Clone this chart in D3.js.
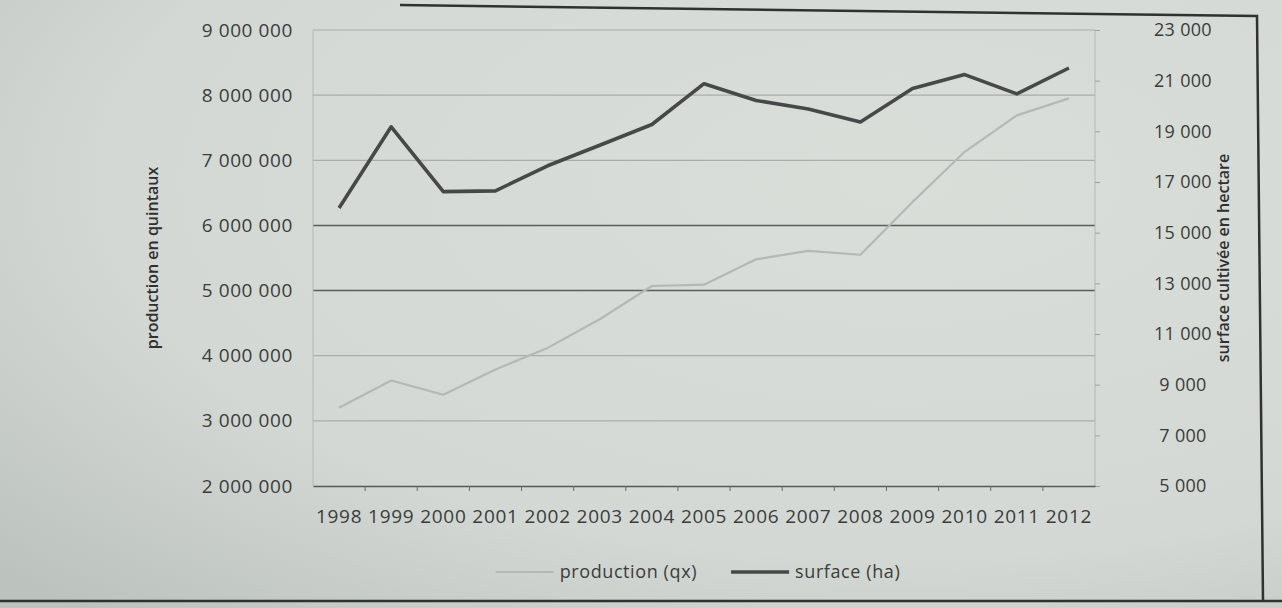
<!DOCTYPE html>
<html><head><meta charset="utf-8">
<script src="https://cdn.jsdelivr.net/npm/d3@7"></script>
<style>
body{margin:0;background:#d4d9d5;}
svg{display:block;font-family:'Open Sans',sans-serif;}
</style>
</head><body>
<svg id="c" width="1282" height="608"></svg>
<script>
// ---- data ----
const years = ["1998","1999","2000","2001","2002","2003","2004","2005","2006","2007","2008","2009","2010","2011","2012"];
const production = [3200000,3620000,3400000,3790000,4120000,4560000,5070000,5090000,5480000,5610000,5550000,6360000,7130000,7690000,7950000];
const surface = [15970,19180,16620,16650,17640,18450,19270,20880,20220,19880,19370,20690,21240,20480,21500];
const leftTicks = [2000000,3000000,4000000,5000000,6000000,7000000,8000000,9000000];
const rightTicks = [5000,7000,9000,11000,13000,15000,17000,19000,21000,23000];
const seriesNames = ["production (qx)","surface (ha)"];
const axisTitles = ["production en quintaux","surface cultivée en hectare"];

// ---- layout ----
const W = 1282, H = 608;
const plot = {left:313, right:1095, top:30, bottom:486};
const textCol = "#3b3d3c";
const fr = d3.formatLocale({decimal:",", thousands:" ", grouping:[3], currency:["","€"]}).format(",d");

const svg = d3.select("#c");

// background with soft shadow at the lower left
const defs = svg.append("defs");
const rg = defs.append("radialGradient").attr("id","bg").attr("cx","0.7").attr("cy","0.3").attr("r","0.95");
rg.append("stop").attr("offset","0").attr("stop-color","#d9ded9");
rg.append("stop").attr("offset","0.65").attr("stop-color","#d3d8d4");
rg.append("stop").attr("offset","1").attr("stop-color","#bcc2be");
svg.append("rect").attr("width",W).attr("height",H).attr("fill","url(#bg)");

const x = d3.scaleBand().domain(years).range([plot.left, plot.right]);
const cx = d => x(d) + x.bandwidth()/2;
const yL = d3.scaleLinear().domain([2000000,9000000]).range([plot.bottom, plot.top]);
const yR = d3.scaleLinear().domain([5000,23000]).range([plot.bottom, plot.top]);

// gridlines
svg.append("g").selectAll("line").data(leftTicks.slice(1)).join("line")
  .attr("x1",plot.left).attr("x2",plot.right)
  .attr("y1",d=>yL(d)).attr("y2",d=>yL(d))
  .attr("stroke",d=> (d===5000000||d===6000000) ? "#5a5d5b" : "#a9aeaa")
  .attr("stroke-width",d=> (d===5000000||d===6000000) ? 1.6 : 1.2);

// left & right faint axis lines
svg.append("line").attr("x1",plot.left).attr("x2",plot.left).attr("y1",plot.top).attr("y2",plot.bottom)
  .attr("stroke","#b3b8b4").attr("stroke-width",1);
svg.append("line").attr("x1",plot.right).attr("x2",plot.right).attr("y1",plot.top).attr("y2",plot.bottom)
  .attr("stroke","#b3b8b4").attr("stroke-width",1);

// left axis labels
const gL = svg.append("g").attr("transform",`translate(${plot.left},0)`)
  .call(d3.axisLeft(yL).tickValues(leftTicks).tickFormat(fr).tickSize(0).tickPadding(20));
gL.select(".domain").remove();
gL.selectAll("text").attr("font-size",19).attr("fill",textCol).attr("font-family","'Open Sans',sans-serif").attr("letter-spacing",0.6);

// right axis
const gR = svg.append("g").attr("transform",`translate(${plot.right},0)`)
  .call(d3.axisRight(yR).tickValues(rightTicks).tickFormat(fr).tickSize(5));
gR.select(".domain").remove();
gR.selectAll("line").attr("stroke","#9ea39f");
gR.selectAll("text").attr("font-size",18).attr("fill",textCol).attr("font-family","'Open Sans',sans-serif")
  .attr("text-anchor","middle").attr("x",88).attr("letter-spacing",0.3);

// x axis
const gX = svg.append("g").attr("transform",`translate(0,${plot.bottom})`)
  .call(d3.axisBottom(x).tickSize(0).tickPadding(24));
gX.select(".domain").attr("stroke","#555957").attr("stroke-width",1.6);
gX.selectAll("text").attr("font-size",19).attr("fill",textCol).attr("font-family","'Open Sans',sans-serif").attr("letter-spacing",0.7);
// boundary ticks
svg.append("g").selectAll("line").data(years.slice(1)).join("line")
  .attr("x1",d=>x(d)).attr("x2",d=>x(d)).attr("y1",plot.bottom).attr("y2",plot.bottom+5)
  .attr("stroke","#6a6d6b").attr("stroke-width",1);

// lines
const lineP = d3.line().x((d,i)=>cx(years[i])).y(d=>yL(d));
const lineS = d3.line().x((d,i)=>cx(years[i])).y(d=>yR(d));
svg.append("path").datum(production).attr("d",lineP).attr("fill","none")
  .attr("stroke","#b4b9b5").attr("stroke-width",2.2).attr("stroke-linejoin","round");
svg.append("path").datum(surface).attr("d",lineS).attr("fill","none")
  .attr("stroke","#464948").attr("stroke-width",3.6).attr("stroke-linejoin","round");

// axis titles
svg.append("text").attr("transform",`translate(158,${(plot.top+plot.bottom)/2}) rotate(-90)`)
  .attr("text-anchor","middle").attr("font-size",16).attr("font-weight",600).attr("fill","#2f3130")
  .text(axisTitles[0]);
svg.append("text").attr("transform",`translate(1229,${(plot.top+plot.bottom)/2}) rotate(-90)`)
  .attr("text-anchor","middle").attr("font-size",16).attr("font-weight",600).attr("fill","#2f3130")
  .text(axisTitles[1]);

// legend
const legY = 572;
const legendColors = ["#b4b9b5","#464948"];
const legendWidths = [2.2,3.4];
const leg = svg.append("g");
let lx = 0;
seriesNames.forEach((n,i)=>{
  const g = leg.append("g").attr("transform",`translate(${lx},0)`);
  g.append("line").attr("x1",0).attr("x2",58).attr("y1",legY).attr("y2",legY)
    .attr("stroke",legendColors[i]).attr("stroke-width",legendWidths[i]);
  const t = g.append("text").attr("x",64).attr("y",legY+6).attr("font-size",18).attr("fill",textCol)
    .attr("letter-spacing",0.6).text(n);
  lx += 64 + t.node().getComputedTextLength() + 34;
});
const legW = lx - 34;
leg.attr("transform",`translate(${(plot.left+plot.right)/2 - legW/2 - 6},0)`);

// frame of the printed chart
svg.append("path").attr("d",`M400,5 L1257,16 L1263,600`).attr("fill","none")
  .attr("stroke","#2f3231").attr("stroke-width",2.5);
svg.append("line").attr("x1",0).attr("x2",W).attr("y1",601).attr("y2",601)
  .attr("stroke","#2f3231").attr("stroke-width",2.5);
</script>
</body></html>
